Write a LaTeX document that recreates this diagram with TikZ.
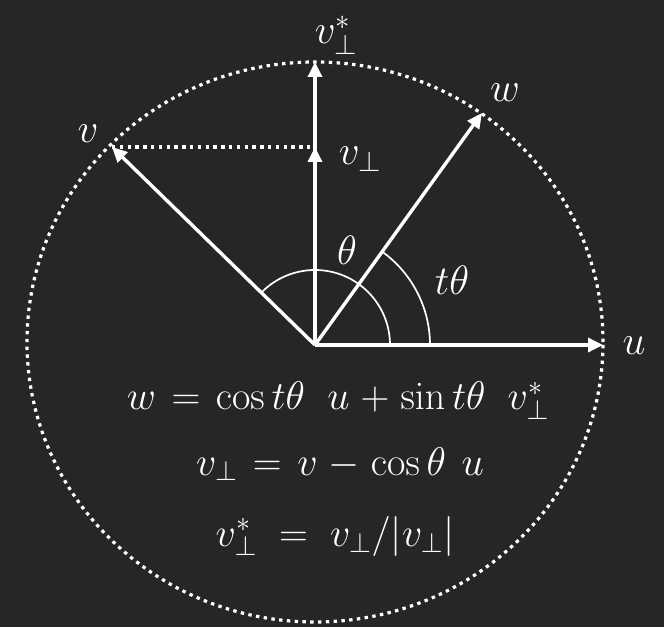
\documentclass[tikz,border=0pt]{standalone}
\usepackage{fix-cm}
\usetikzlibrary{arrows.meta,calc}
\definecolor{bg}{HTML}{262626}
\begin{document}
\begin{tikzpicture}[x=1pt,y=1pt,
  vec/.style={draw=white,line width=3.4pt,-{Triangle[length=15pt,width=14pt]}},
  lab/.style={text=white,font=\fontsize{41}{48}\selectfont,inner sep=0pt,anchor=base},
  eq/.style={text=white,font=\fontsize{40}{48}\selectfont,inner sep=0pt,anchor=base},
  dotline/.style={draw=white,line width=3.2pt,dash pattern=on 3.4pt off 4.4pt},
  angarc/.style={draw=white,line width=1.7pt}]
\fill[bg] (0,0) rectangle (664,627);
\useasboundingbox (0,0) rectangle (664,627);
\thickmuskip=7mu plus 2mu
\medmuskip=5mu plus 2mu
\coordinate (O) at (315,282);
\coordinate (U) at (603,282);
\coordinate (V) at (112,480);
\coordinate (VP) at (315,480);
\coordinate (VS) at (315,565);
\coordinate (W) at (482,514);
\coordinate (C) at (315,285);
\draw[dotline] (C) ellipse [x radius=288, y radius=280];
\draw[dotline] (V) -- (VP);
\draw[angarc] ($(O)+(75,0)$) arc[start angle=0,end angle=135.7,radius=75];
\draw[angarc] ($(O)+(115,0)$) arc[start angle=0,end angle=54.3,radius=115];
\draw[vec] (O) -- (U);
\draw[vec] (O) -- (VS);
\draw[vec] (O) -- (V);
\draw[vec] (O) -- (W);
\draw[vec] (O) -- (VP);
\node[lab] (lvs) at (336,583) {$v_\perp^*$};
\node[lab] (lw) at (505,525) {$w$};
\node[lab] (lv) at (88,484) {$v$};
\node[lab] (lvp) at (360,462) {$v_\perp$};
\node[lab] (lu) at (634,272) {$u$};
\node[lab] (lth) at (347,362) {$\theta$};
\node[lab] (lt) at (452,332) {$t\theta$};
\node[eq] (e1) at (338,217) {$w=\cos t\theta\;\,u+\sin t\theta\;\,v_\perp^*$};
\node[eq] (e2) at (340,152) {$v_\perp=v-\cos\theta\;u$};
\node[eq] (e3) at (335,81) {$v_\perp^*\mathrel{\,=\,}v_\perp/|v_\perp|$};
\end{tikzpicture}
\end{document}
